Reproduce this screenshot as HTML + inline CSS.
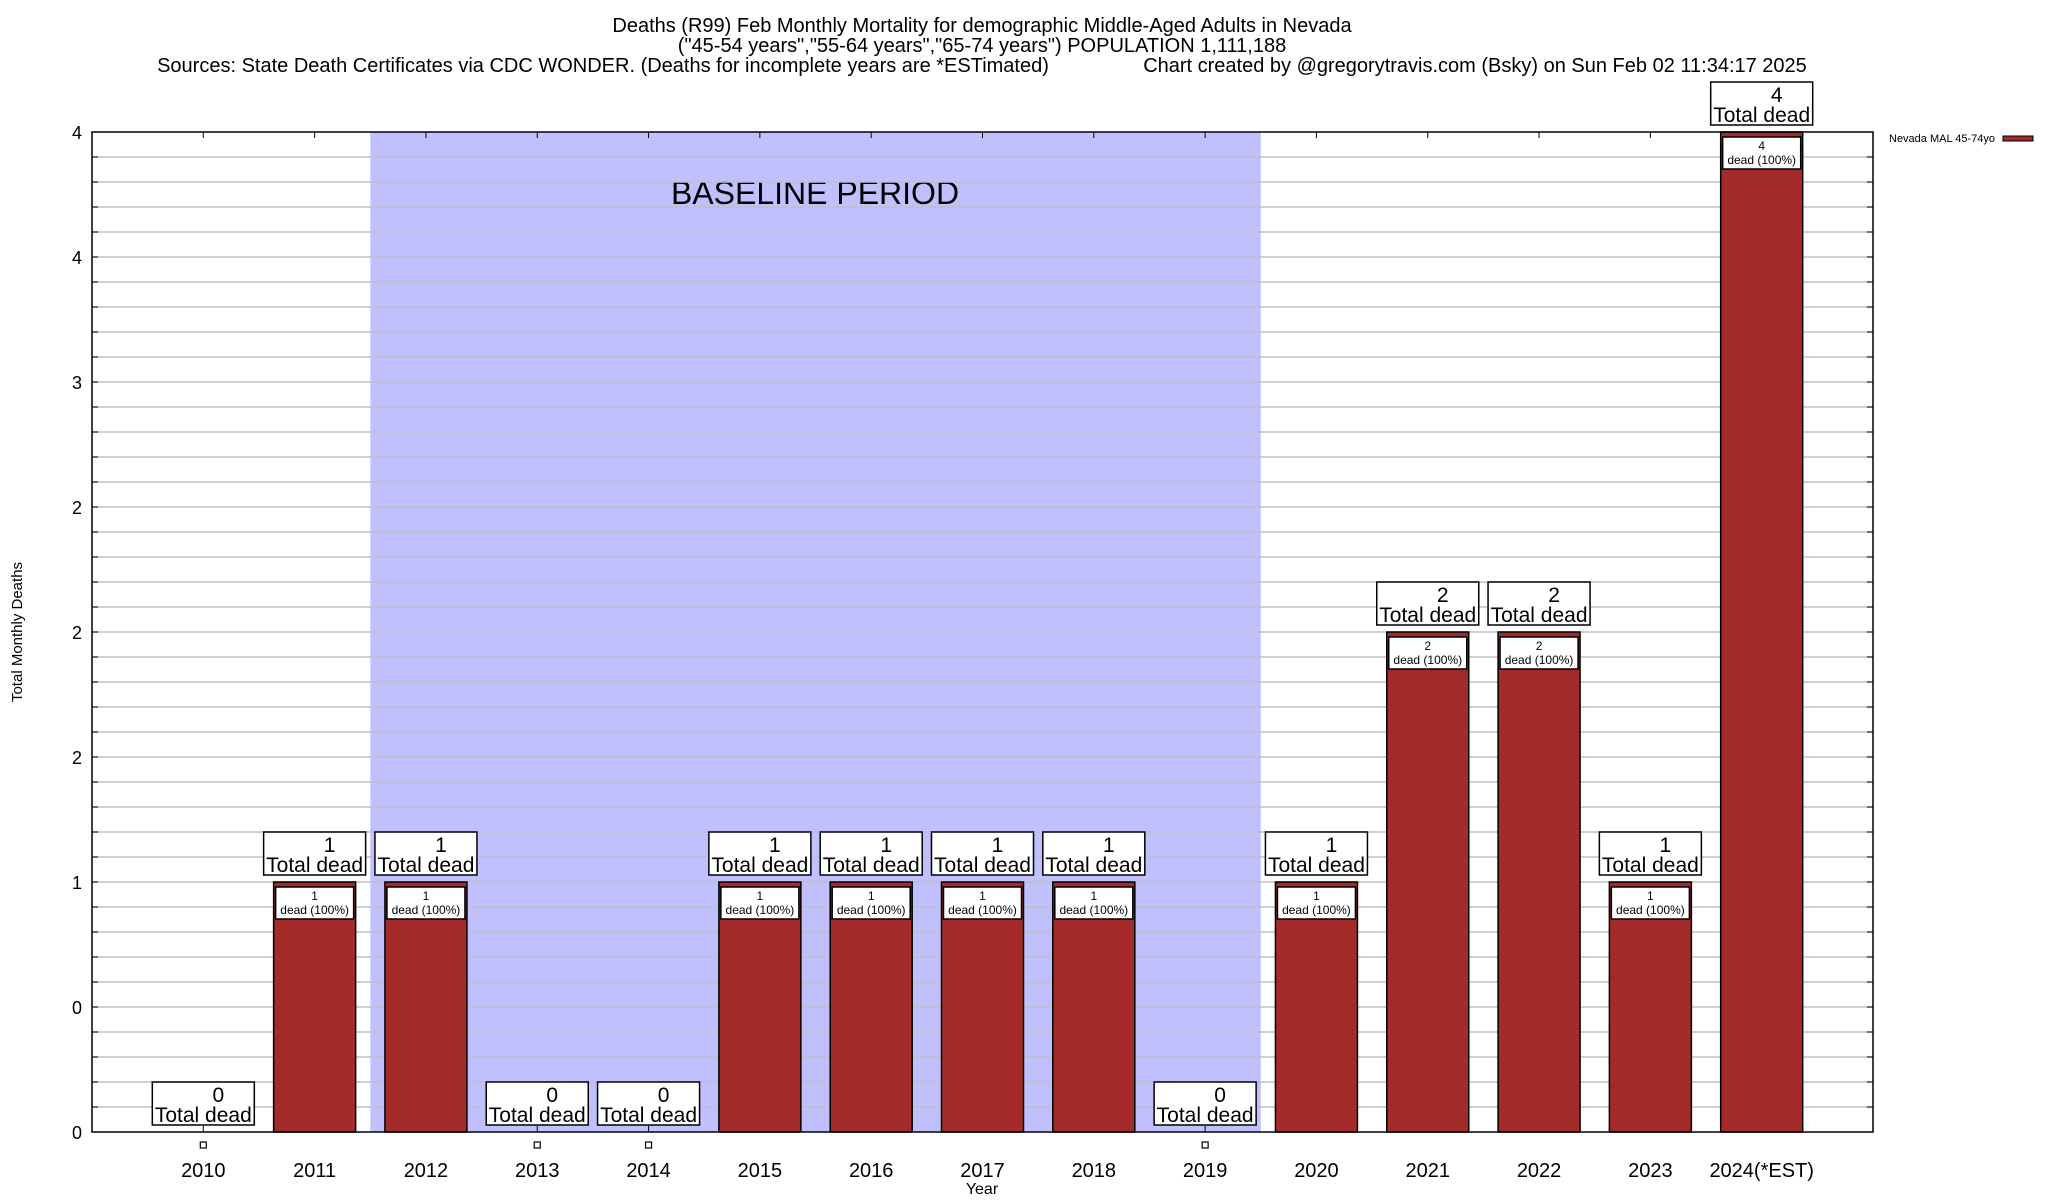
<!DOCTYPE html>
<html><head><meta charset="utf-8"><style>
body{margin:0;background:#fff;}
svg{display:block;font-family:"Liberation Sans",sans-serif;}
</style></head><body>
<svg id="chart" width="2048" height="1200" viewBox="0 0 2048 1200">
<g font-size="20" text-anchor="middle" fill="#000">
<text x="982" y="32">Deaths (R99) Feb Monthly Mortality for demographic Middle-Aged Adults in Nevada</text>
<text x="982" y="52">("45-54 years","55-64 years","65-74 years") POPULATION 1,111,188</text>
<text x="603" y="72">Sources: State Death Certificates via CDC WONDER. (Deaths for incomplete years are *ESTimated)</text>
<text x="1475" y="72">Chart created by @gregorytravis.com (Bsky) on Sun Feb 02 11:34:17 2025</text>
</g>
<g id="plot"></g>
<text x="22" y="632" font-size="15" text-anchor="middle" transform="rotate(-90 22 632)">Total Monthly Deaths</text>
<text x="982" y="1194" font-size="16" text-anchor="middle">Year</text>
<g>
<text x="1995" y="142" font-size="11" text-anchor="end">Nevada MAL 45-74yo</text>
<rect x="2003" y="136" width="30" height="5" fill="#a52a2a" stroke="#000" stroke-width="1"/>
</g>
</svg>
<script>
const categories=["2010","2011","2012","2013","2014","2015","2016","2017","2018","2019","2020","2021","2022","2023","2024(*EST)"];
const values=[0,1,1,0,0,1,1,1,1,0,1,2,2,1,4];
const yTickValues=[0,0.5,1,1.5,2,2.5,3,3.5,4];
const yTickLabels=["0","0","1","2","2","2","3","4","4"];
const baselineRange=[1.5,9.5];
const L=92,R=1873,T=132,B=1132,YMAX=4;
const step=(R-L)/(categories.length+1);
function xs(i){return L+(i+1)*step;}
function ys(v){return B-(v/YMAX)*(B-T);}
const NS="http://www.w3.org/2000/svg";
const g=document.getElementById('plot');
function mk(tag,attrs,parent){const e=document.createElementNS(NS,tag);for(const k in attrs)e.setAttribute(k,attrs[k]);(parent||g).appendChild(e);return e;}
let sh=mk('rect',{x:xs(baselineRange[0]),y:T,width:xs(baselineRange[1])-xs(baselineRange[0]),height:B-T,fill:'#c0c0ff'});


let bt=mk('text',{x:815,y:204,'font-size':32,'text-anchor':'middle'});bt.textContent='BASELINE PERIOD';


for(let k=1;k<40;k++){const y=ys(k*0.1);
 mk('line',{x1:L,x2:R,y1:y,y2:y,stroke:'#c0c0c0','stroke-width':1.5});
 mk('line',{x1:L,x2:L+6,y1:y,y2:y,stroke:'#000'});mk('line',{x1:R-6,x2:R,y1:y,y2:y,stroke:'#000'});}
yTickValues.forEach((v,i)=>{const t=mk('text',{x:82,y:ys(v)+7,'font-size':18,'text-anchor':'end'});t.textContent=yTickLabels[i];
 
 });
categories.forEach((c,i)=>{const v=values[i];const cx=xs(i);const w=82;
 mk('line',{x1:cx,x2:cx,y1:T,y2:T+6,stroke:'#000'});mk('line',{x1:cx,x2:cx,y1:B,y2:B-6,stroke:'#000'});
 const xl=mk('text',{x:cx,y:1177,'font-size':20,'text-anchor':'middle'});xl.textContent=c;
 
 
 const top=ys(v);
 if(v>0){
  const b=mk('rect',{x:cx-w/2,y:top,width:w,height:B-top,fill:'#a52a2a',stroke:'#000','stroke-width':1.5});
  
  
  mk('rect',{x:cx-w/2+2,y:top+5,width:w-4,height:32,fill:'#fff',stroke:'#000','stroke-width':1.5});
  const t1=mk('text',{x:cx,y:top+18,'font-size':12,'text-anchor':'middle'});t1.textContent=v;
  const t2=mk('text',{x:cx,y:top+32,'font-size':12,'text-anchor':'middle'});t2.textContent='dead (100%)';
 } else {
  mk('rect',{x:cx-3,y:1142,width:6,height:6,fill:'#fff',stroke:'#000','stroke-width':1.2});
 }
 const by=top-50;
 const bx=mk('rect',{x:cx-51,y:by,width:102,height:43,fill:'#fff',stroke:'#000','stroke-width':1.5});
 
 
 const n=mk('text',{x:cx+15,y:by+20,'font-size':21,'text-anchor':'middle'});n.textContent=v;
 const td=mk('text',{x:cx,y:by+40,'font-size':21,'text-anchor':'middle'});td.textContent='Total dead';
});
mk('rect',{x:L,y:T,width:R-L,height:B-T,fill:'none',stroke:'#000','stroke-width':1.5});
</script>
</body></html>
